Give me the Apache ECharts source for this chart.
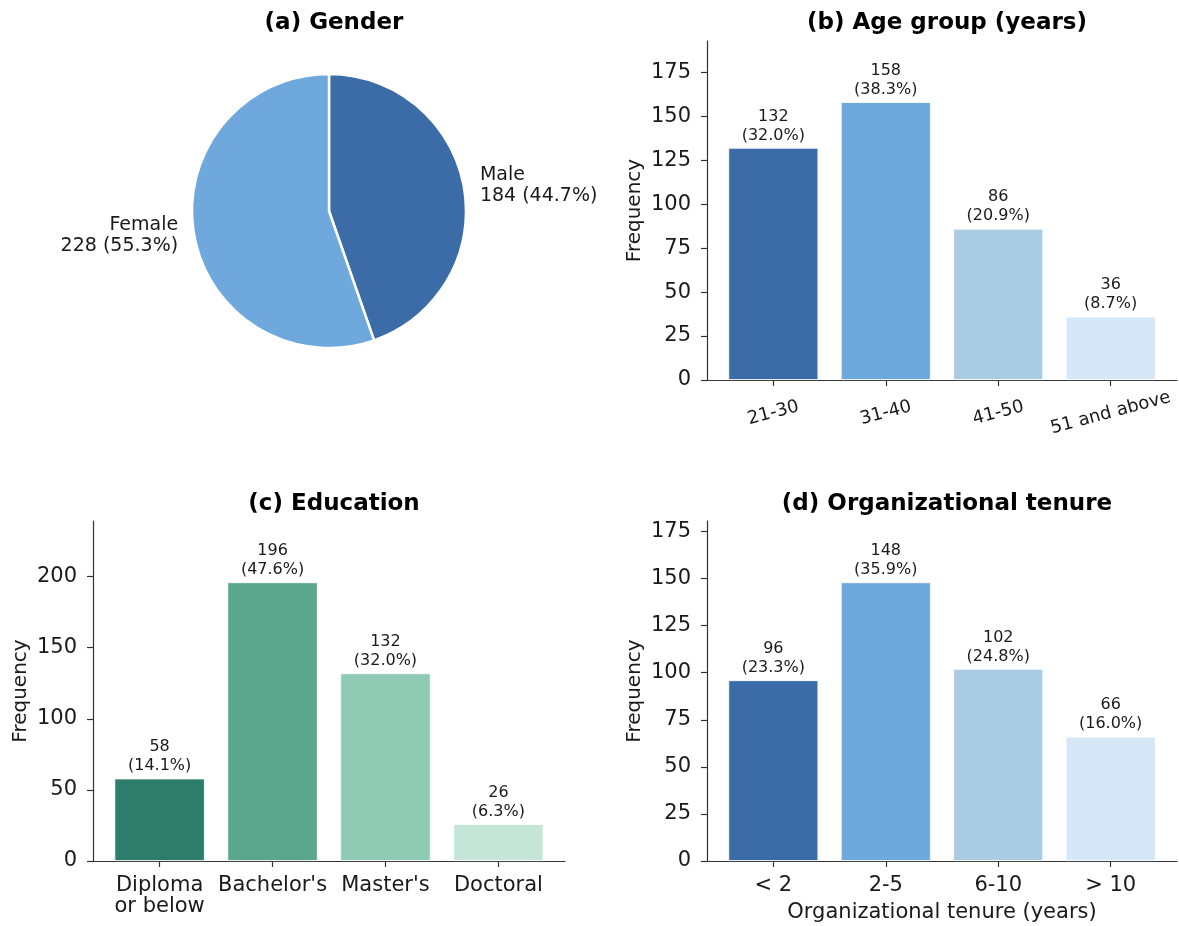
<!DOCTYPE html>
<html>
<head>
<meta charset="utf-8">
<script src="https://cdn.jsdelivr.net/npm/echarts@6/dist/echarts.min.js"></script>
<style>html,body{margin:0;padding:0;background:#fff}#c{width:1179px;height:926px}</style>
</head>
<body>
<div id="c"></div>
<script>
// ---- data ----
const genderCats = ['Male', 'Female'];
const genderVals = [184, 228];

const ageCats = ['21-30', '31-40', '41-50', '51 and above'];
const ageVals = [132, 158, 86, 36];

const eduCats = ['Diploma\nor below', "Bachelor's", "Master's", 'Doctoral'];
const eduVals = [58, 196, 132, 26];

const tenureCats = ['< 2', '2-5', '6-10', '> 10'];
const tenureVals = [96, 148, 102, 66];

const ageTicks = [0, 25, 50, 75, 100, 125, 150, 175];
const eduTicks = [0, 50, 100, 150, 200];
const tenureTicks = [0, 25, 50, 75, 100, 125, 150, 175];

const blues = ['#3B6CA7', '#6FA8DC', '#AACCE2', '#D6E8F7'];
const greens = ['#2E7D6B', '#5AA78D', '#8FCAB5', '#C4E5D8'];

// ---- chart ----
const FONT = 'DejaVu Sans';
const TXT = '#1a1a1a';
const chart = echarts.init(document.getElementById('c'), null, {renderer: 'canvas'});

const grids = [
  {left: 707, top: 41, width: 470, height: 339},
  {left: 93, top: 521, width: 472, height: 340},
  {left: 707, top: 521, width: 470, height: 340}
];
const XMIN = -0.59, XMAX = 3.59;

function sum(a){return a.reduce((s,v)=>s+v,0);}

function xAxisFor(gi, cats, extra) {
  return Object.assign({
    type: 'value', gridIndex: gi, min: XMIN, max: XMAX,
    splitLine: {show: false},
    axisLine: {show: true, onZero: false, lineStyle: {color: '#333', width: 1.2}},
    axisTick: {show: true, length: 6, lineStyle: {color: '#333', width: 1.2}, customValues: [0,1,2,3]},
    axisLabel: {customValues: [0,1,2,3], formatter: v => cats[Math.round(v)],
      fontFamily: FONT, fontSize: 21, color: TXT, margin: 14, lineHeight: 21}
  }, extra || {});
}
function yAxisFor(gi, ticks, maxV) {
  return {
    type: 'value', gridIndex: gi, min: 0, max: maxV * 1.22,
    splitLine: {show: false},
    name: 'Frequency', nameLocation: 'middle', nameGap: 62, nameRotate: 90,
    nameTextStyle: {fontFamily: FONT, fontSize: 20, color: TXT},
    axisLine: {show: true, onZero: false, lineStyle: {color: '#333', width: 1.2}},
    axisTick: {show: true, length: 6, lineStyle: {color: '#333', width: 1.2}, customValues: ticks},
    axisLabel: {customValues: ticks, fontFamily: FONT, fontSize: 21, color: TXT, margin: 16}
  };
}
function barSeries(gi, vals, colors) {
  const total = sum(vals);
  const gw = grids[gi].width;
  return {
    type: 'bar', xAxisIndex: gi, yAxisIndex: gi,
    barWidth: 0.8 / (XMAX - XMIN) * gw,
    data: vals.map((v, i) => ({value: [i, v], itemStyle: {color: colors[i]}})),
    itemStyle: {borderColor: '#ffffff', borderWidth: 0.8},
    label: {
      show: true, position: 'top', distance: 3,
      fontFamily: FONT, fontSize: 16, lineHeight: 19, color: TXT,
      formatter: p => p.value[1] + '\n(' + (p.value[1] / total * 100).toFixed(1) + '%)'
    },
    silent: true, animation: false
  };
}

const gTotal = sum(genderVals);
const titleStyle = {fontFamily: FONT, fontSize: 23, fontWeight: 'bold', color: '#000'};

chart.setOption({
  backgroundColor: '#fff',
  animation: false,
  title: [
    {text: '(a) Gender', left: 329, top: 7, textAlign: 'center', textStyle: titleStyle},
    {text: '(b) Age group (years)', left: 942, top: 7, textAlign: 'center', textStyle: titleStyle},
    {text: '(c) Education', left: 329, top: 488, textAlign: 'center', textStyle: titleStyle},
    {text: '(d) Organizational tenure', left: 942, top: 488, textAlign: 'center', textStyle: titleStyle}
  ],
  grid: grids,
  xAxis: [
    xAxisFor(0, ageCats, {axisLabel: {customValues: [0,1,2,3], formatter: v => ageCats[Math.round(v)],
      fontFamily: FONT, fontSize: 18, color: TXT, margin: 33, rotate: 15, align: 'center', verticalAlign: 'middle'}}),
    xAxisFor(1, eduCats),
    xAxisFor(2, tenureCats, {name: 'Organizational tenure (years)', nameLocation: 'middle', nameGap: 41,
      nameTextStyle: {fontFamily: FONT, fontSize: 21, color: TXT}})
  ],
  yAxis: [
    yAxisFor(0, ageTicks, Math.max(...ageVals)),
    yAxisFor(1, eduTicks, Math.max(...eduVals)),
    yAxisFor(2, tenureTicks, Math.max(...tenureVals))
  ],
  series: [
    {
      type: 'pie', center: [329, 211], radius: 137, startAngle: 90, clockwise: true,
      silent: true, animation: false,
      data: genderCats.map((c, i) => ({name: c, value: genderVals[i], itemStyle: {color: blues[i]}})),
      itemStyle: {borderColor: '#fff', borderWidth: 2.5},
      label: {
        show: true, position: 'outside', fontFamily: FONT, fontSize: 19, lineHeight: 21, color: TXT,
        distanceToLabelLine: 3,
        formatter: p => p.name + '\n' + p.value + ' (' + (p.value / gTotal * 100).toFixed(1) + '%)'
      },
      labelLine: {show: false, length: 13, length2: 0}
    },
    barSeries(0, ageVals, blues),
    barSeries(1, eduVals, greens),
    barSeries(2, tenureVals, blues)
  ]
});
</script>
</body>
</html>
